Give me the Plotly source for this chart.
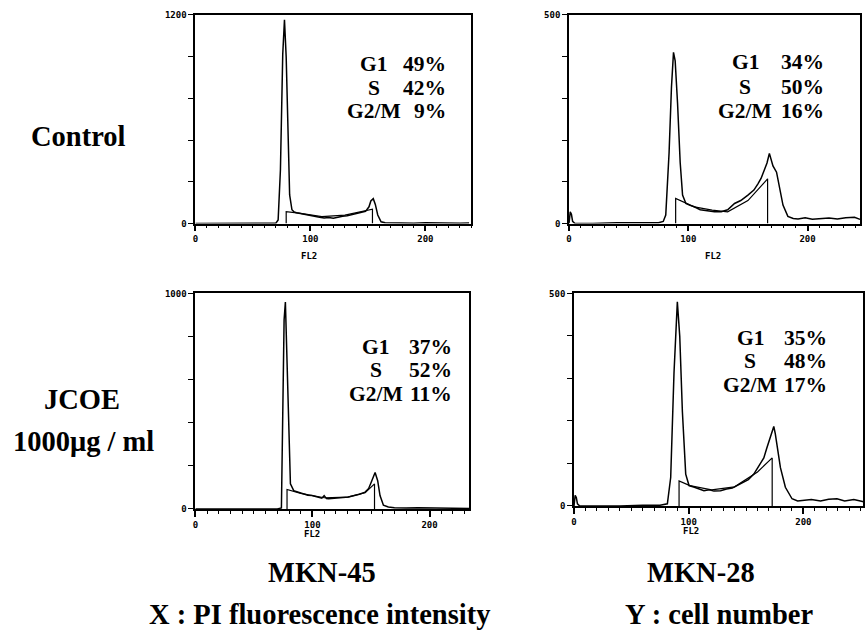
import plotly.graph_objects as go

W, H = 865, 635

# ---------------- data ----------------
# Top-left: MKN-45 control (y max 1200)
tl_ch = [0, 10, 20, 30, 40, 50, 60, 66, 70, 72, 74, 76, 77.5, 79, 80.5, 82, 84, 86, 88, 92, 96, 100,
         104, 108, 112, 116, 120, 124, 128, 132, 136, 140, 144, 148, 151, 152.6, 154.7, 156.5, 158.6,
         161.5, 165, 170, 180, 190, 200, 210, 220, 230, 238]
tl_cnt = [0, 0, 0, 0, 0, 0, 0, 0, 2, 20, 311, 973, 1172, 956, 503, 164, 79, 66, 62, 56, 50, 44,
          40, 36, 32, 34, 30, 38, 42, 45, 52, 58, 64, 70, 96, 130, 143, 110, 49,
          10, 4, 3, 5, 2, 4, 2, 3, 2, 3]
tl_fit_ch = [79, 79, 90, 110, 130, 150, 154, 154]
tl_fit_cnt = [0, 68, 60, 40, 48, 76, 82, 0]

# Top-right: MKN-28 control (y max 500)
tr_ch = [0, 1, 2, 3, 5, 20, 40, 60, 75, 79, 81.1, 83.9, 85.9, 87.6, 89, 91, 93.2, 95.2, 98, 101,
         105, 110, 116, 122, 127.6, 133, 138.8, 144, 150, 155, 158.4, 161, 164, 166, 168, 169.5,
         171, 174, 176.6, 179.4, 183.5, 188, 192, 198, 204, 211.6, 218, 225, 232, 239.4, 244]
tr_cnt = [0, 28, 22, 5, 0, 0, 2, 3, 2, 5, 20, 170, 327, 410, 390, 288, 146, 68, 48, 44,
          40, 33, 30, 28, 28, 33, 48, 55, 68, 80, 95, 108, 130, 145, 168, 155,
          138, 123, 83, 44, 17, 12, 11, 14, 10, 12, 13, 11, 14, 15, 10]
tr_fit_ch = [89.4, 89.4, 105, 120, 133, 150, 166.5, 166.5]
tr_fit_cnt = [0, 60, 40, 32, 28, 55, 107, 0]

# Bottom-left: MKN-45 JCOE (y max 1000)
bl_ch = [0, 10, 20, 30, 40, 50, 60, 70, 73.5, 74.6, 75.8, 76.9, 78.3, 79.7, 81.2, 84, 88, 92, 96,
         99.6, 104, 108, 110, 112, 113.8, 118, 122, 126, 130.8, 135, 140, 145, 148, 150.1, 153.5,
         155.7, 157.7, 160.6, 164.8, 170, 180, 190, 200, 210, 220, 234]
bl_cnt = [0, 0, 0, 0, 0, 0, 0, 0, 5, 451, 877, 960, 679, 298, 116, 85, 78, 70, 64,
          62, 55, 50, 62, 48, 47, 50, 52, 53, 55, 60, 68, 78, 95, 123, 169,
          131, 62, 17, 9, 6, 4, 6, 5, 3, 4, 2]
bl_fit_ch = [78.3, 78.3, 90, 110, 130, 145, 153, 153]
bl_fit_cnt = [0, 90, 72, 52, 55, 75, 116, 0]

# Bottom-right: MKN-28 JCOE (y max 500)
br_ch = [0, 1, 2, 3, 5, 20, 40, 60, 75, 81.4, 84.3, 87.2, 90.1, 92.2, 94.5, 97.4, 100.3, 105, 110,
         113.3, 118, 122, 127.8, 133, 138, 142.3, 147, 152, 156.8, 161, 165.5, 168, 170.7, 172.5,
         174.2, 175.5, 177.1, 180, 184.3, 190.1, 195, 200.3, 207, 215, 222, 229.3, 236, 244, 252.5]
br_cnt = [0, 25, 20, 5, 0, 0, 0, 2, 2, 5, 67, 314, 480, 399, 222, 75, 48, 44, 40,
          36, 38, 35, 36, 40, 42, 48, 55, 62, 75, 92, 113, 135, 160, 172,
          187, 170, 144, 90, 44, 17, 12, 13, 15, 12, 16, 17, 12, 15, 10]
br_fit_ch = [91.6, 91.6, 101, 120, 140, 160, 172.8, 172.8]
br_fit_cnt = [0, 59, 48, 38, 45, 80, 113, 0]

phase_labels = ["G1", "S", "G2/M"]
pct_tl = ["49%", "42%", "9%"]
pct_tr = ["34%", "50%", "16%"]
pct_bl = ["37%", "52%", "11%"]
pct_br = ["35%", "48%", "17%"]

y_max_labels = ["1200", "500", "1000", "500"]
y_max_values = [1200, 500, 1000, 500]
x_tick_vals = [0, 50, 100, 150, 200]
x_tick_text = ["0", "", "100", "", "200"]
x_minor_vals = list(range(0, 260, 10))

row_labels = ["<b>Control</b>", "<b>JCOE</b>", "<b>1000\u03bcg / ml</b>"]
col_labels = ["<b>MKN-45</b>", "<b>MKN-28</b>"]
axis_notes = ["<b>X : PI fluorescence intensity</b>", "<b>Y : cell number</b>"]

# ---------------- layout geometry (pixels) ----------------
panels = [
    # (x0px, x1px, ytop_px, ybot_px, xmax)
    (193, 470, 10, 222, 240),
    (568, 860, 10, 222, 244),
    (193, 468, 293, 512, 234),
    (573, 863, 293, 509, 252),
]
hist = [(tl_ch, tl_cnt, tl_fit_ch, tl_fit_cnt),
        (tr_ch, tr_cnt, tr_fit_ch, tr_fit_cnt),
        (bl_ch, bl_cnt, bl_fit_ch, bl_fit_cnt),
        (br_ch, br_cnt, br_fit_ch, br_fit_cnt)]
pcts = [pct_tl, pct_tr, pct_bl, pct_br]
# text positions: (label centre x, value right x, [line centre y])
text_pos = [
    (372, 447, [60, 84, 108]),
    (745, 826, [58, 83, 108]),
    (374, 453, [347, 371, 395]),
    (750, 829, [338, 362, 386]),
]
fl2_pos = [(307, 255), (712, 255), (310, 537), (690, 534)]


def px(x):
    return x / W


def py(y):
    return 1 - y / H


fig = go.Figure()
layout = dict(
    width=W, height=H, margin=dict(l=0, r=0, t=0, b=0),
    paper_bgcolor="white", plot_bgcolor="white", showlegend=False,
)
annotations = []
tickfont = dict(family="DejaVu Sans Mono", size=9, color="black", weight="bold")

for i, ((x0, x1, yt, yb, xmax), (ch, cnt, fch, fcnt)) in enumerate(zip(panels, hist)):
    n = "" if i == 0 else str(i + 1)
    xa, ya = "x" + n, "y" + n
    fig.add_trace(go.Scatter(x=ch, y=cnt, mode="lines", xaxis=xa, yaxis=ya,
                             line=dict(color="black", width=1.5), hoverinfo="skip"))
    fig.add_trace(go.Scatter(x=fch, y=fcnt, mode="lines", xaxis=xa, yaxis=ya,
                             line=dict(color="black", width=1.2), hoverinfo="skip"))
    ymax = y_max_values[i]
    layout["xaxis" + n] = dict(
        domain=[px(x0), px(x1)], range=[0, xmax], anchor=ya,
        showline=True, linecolor="black", linewidth=1.8, mirror=True,
        showgrid=False, zeroline=False,
        tickmode="array", tickvals=x_tick_vals, ticktext=x_tick_text,
        ticks="outside", ticklen=6, tickwidth=1.5, tickcolor="black",
        minor=dict(tickmode="array", tickvals=x_minor_vals, ticks="outside",
                   ticklen=3, tickwidth=1.3, tickcolor="black"),
        tickfont=tickfont, ticklabelstandoff=0, fixedrange=True,
    )
    layout["yaxis" + n] = dict(
        domain=[py(yb), py(yt)], range=[0, ymax], anchor=xa,
        showline=True, linecolor="black", linewidth=1.8, mirror=True,
        showgrid=False, zeroline=False,
        tickmode="array", tickvals=[ymax * k / 5 for k in range(6)],
        ticktext=["0", "", "", "", "", y_max_labels[i]],
        ticks="outside", ticklen=5, tickwidth=1.4, tickcolor="black",
        tickfont=tickfont, fixedrange=True,
    )
    # FL2 label
    fx, fy = fl2_pos[i]
    annotations.append(dict(x=px(fx), y=py(fy), xref="paper", yref="paper", text="FL2",
                            showarrow=False, xanchor="center", yanchor="middle",
                            font=dict(family="DejaVu Sans Mono", size=9,
                                      color="black", weight="bold")))
    # phase percentages
    cx, rx, ys = text_pos[i]
    for lab, val, yy in zip(phase_labels, pcts[i], ys):
        annotations.append(dict(x=px(cx), y=py(yy), xref="paper", yref="paper",
                                text="<b>" + lab + "</b>", showarrow=False,
                                xanchor="center", yanchor="middle",
                                font=dict(family="Liberation Serif", size=21.5, color="black")))
        annotations.append(dict(x=px(rx), y=py(yy), xref="paper", yref="paper",
                                text="<b>" + val + "</b>", showarrow=False,
                                xanchor="right", yanchor="middle",
                                font=dict(family="Liberation Serif", size=21.5, color="black")))

big = dict(family="Liberation Serif", size=28.5, color="black")
for txt, (x, y) in zip(row_labels, [(76, 134), (79, 401), (81, 443)]):
    annotations.append(dict(x=px(x), y=py(y), xref="paper", yref="paper", text=txt,
                            showarrow=False, xanchor="center", yanchor="middle", font=big))
for txt, (x, y) in zip(col_labels, [(320, 577), (700, 577)]):
    annotations.append(dict(x=px(x), y=py(y), xref="paper", yref="paper", text=txt,
                            showarrow=False, xanchor="center", yanchor="middle", font=big))
for txt, (x, y) in zip(axis_notes, [(318, 619), (718, 619)]):
    annotations.append(dict(x=px(x), y=py(y), xref="paper", yref="paper", text=txt,
                            showarrow=False, xanchor="center", yanchor="middle", font=big))

layout["annotations"] = annotations
fig.update_layout(**layout)
fig.write_html("out.html")
